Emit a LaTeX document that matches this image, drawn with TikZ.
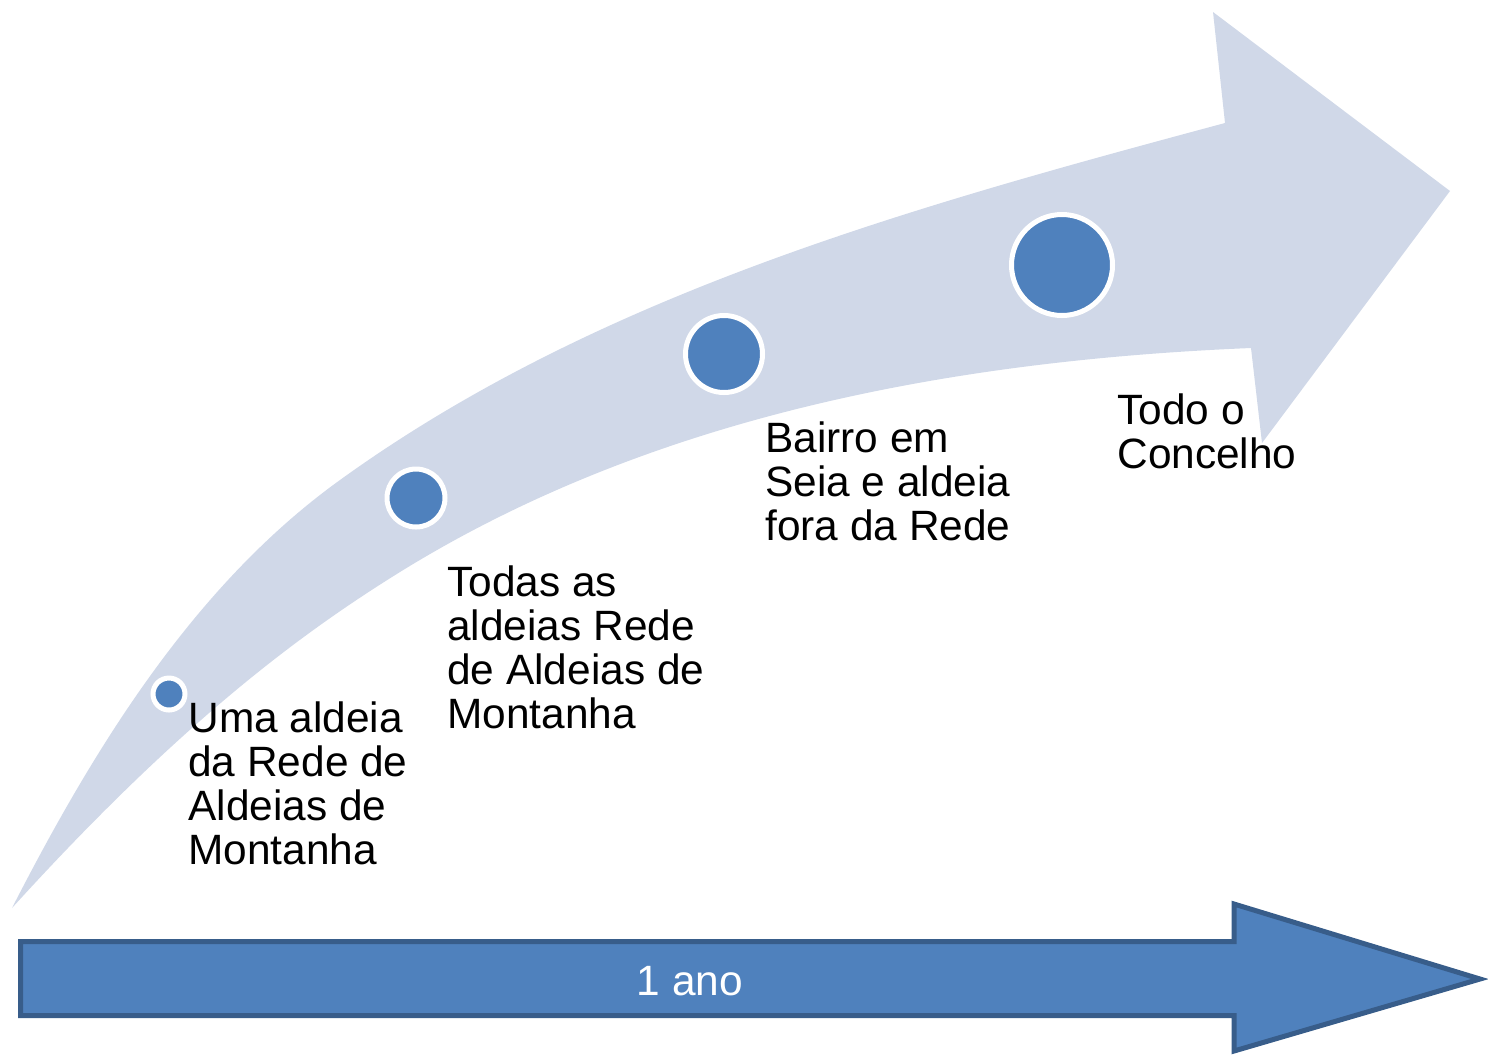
\documentclass[tikz,border=0pt]{standalone}
\usepackage{fontspec}
\setmainfont{Liberation Sans}
\usetikzlibrary{positioning}
\definecolor{bandfill}{HTML}{D0D8E8}
\definecolor{dotfill}{HTML}{4F81BD}
\definecolor{barline}{HTML}{385D8A}

\begin{document}
\begin{tikzpicture}[x=0.5pt, y=-0.5pt,
    steptext/.style={font=\fontsize{21.2}{22}\selectfont, align=left, anchor=north west, inner sep=0pt},
    dot/.style={circle, fill=dotfill, draw=white, line width=2.5pt, inner sep=0pt}]
    \useasboundingbox (0,0) rectangle (1488,1056);
    % curved arrow
    \fill[bandfill] (12,908) .. controls (94,748) and (194,585) .. (340,480)
        .. controls (599,293) and (916,206) .. (1225,123)
        -- (1213,12) -- (1450,191) -- (1262,443) -- (1251,348)
        .. controls (962,360) and (657,413) .. (400,572)
        .. controls (300,634) and (180,723) .. (12,908) -- cycle;
    % stages
    \node[dot, minimum size=16pt] (dot1) at (169,694) {};
    \node[dot, minimum size=29pt] (dot2) at (416,498) {};
    \node[dot, minimum size=38.5pt] (dot3) at (724,354) {};
    \node[dot, minimum size=50.5pt] (dot4) at (1062,265) {};
    \node[steptext] (txt1) at (188,701) {Uma aldeia\\da Rede de\\Aldeias de\\Montanha};
    \node[steptext] (txt2) at (447,565) {Todas as\\aldeias Rede\\de Aldeias de\\Montanha};
    \node[steptext] (txt3) at (765,421) {Bairro em\\Seia e aldeia\\fora da Rede};
    \node[steptext] (txt4) at (1117,393) {Todo o\\Concelho};
    % time bar
    \draw[barline, fill=dotfill, line width=2.5pt] (20.5,941.5) -- (1234,941.5) -- (1234,904) -- (1480,979)
        -- (1234,1051) -- (1234,1015.5) -- (20.5,1015.5) -- cycle;
    \node[text=white, font=\fontsize{21.2}{22}\selectfont] (year) at (690,981) {1 ano};
\end{tikzpicture}
\end{document}
